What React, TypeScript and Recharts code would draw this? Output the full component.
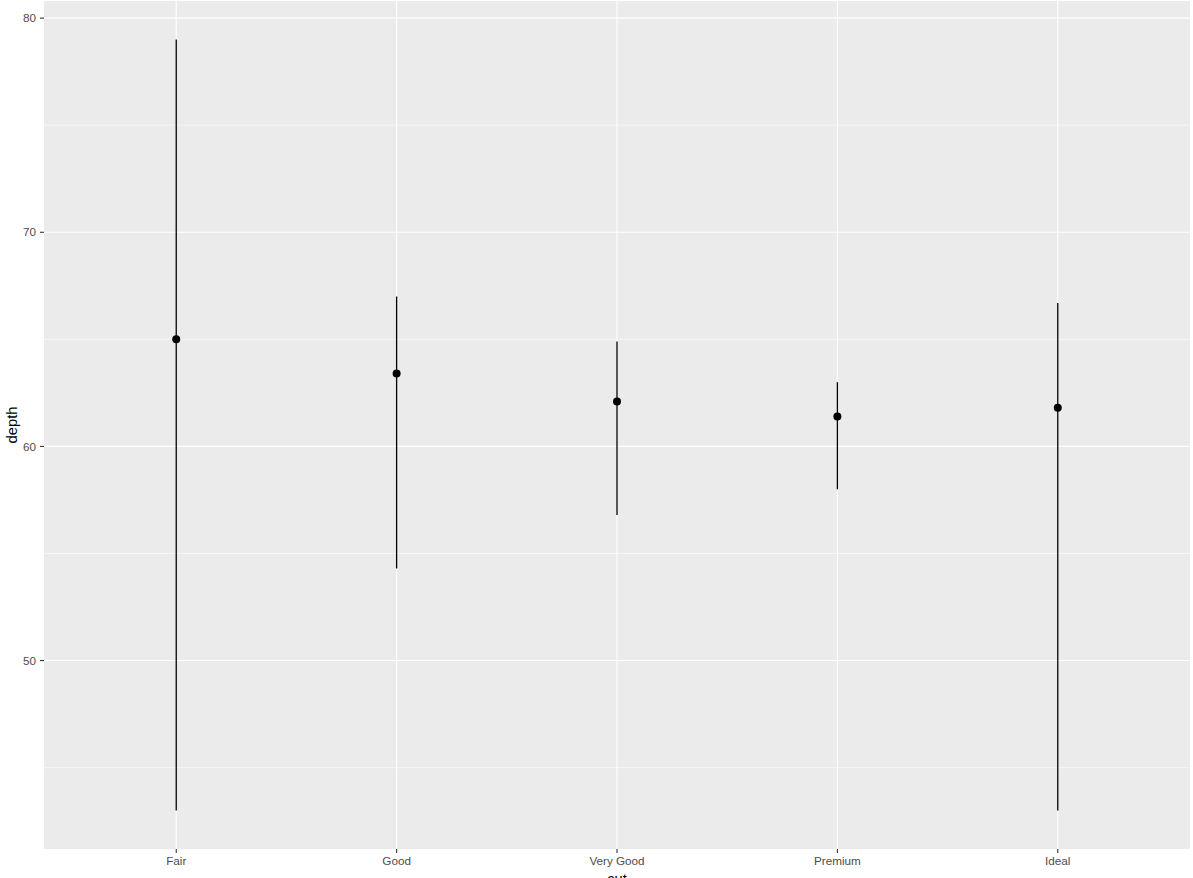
import {
  ComposedChart,
  Scatter,
  ErrorBar,
  XAxis,
  YAxis,
  CartesianGrid,
  Label,
} from "recharts";

const cuts = ["Fair", "Good", "Very Good", "Premium", "Ideal"];
const medians = [65.0, 63.4, 62.1, 61.4, 61.8];
const mins = [43.0, 54.3, 56.8, 58.0, 43.0];
const maxs = [79.0, 67.0, 64.9, 63.0, 66.7];

const majorY = [50, 60, 70, 80];
const minorY = [45, 55, 65, 75];
const xTicks = [0, 1, 2, 3, 4];

const data = cuts.map((c, i) => ({
  x: i,
  cut: c,
  depth: medians[i],
  range: [medians[i] - mins[i], maxs[i] - medians[i]],
}));

const FONT = "'Liberation Sans', Arial, sans-serif";

const Dot = (props: any) => (
  <circle cx={props.cx} cy={props.cy} r={4} fill="#000" />
);

export default function App() {
  return (
    <div style={{ position: "absolute", left: 0, top: 0, background: "#fff" }}>
      <ComposedChart
        width={1193}
        height={878}
        data={data}
        margin={{ top: 1, right: 3, bottom: 0, left: 0 }}
        style={{ fontFamily: FONT }}
      >
        <CartesianGrid
          fill="#EBEBEB"
          stroke="#fff"
          strokeWidth={0.55}
          horizontalValues={minorY}
          vertical={false}
        />
        <CartesianGrid
          stroke="#fff"
          strokeWidth={1.1}
          horizontalValues={majorY}
          verticalValues={xTicks}
        />
        <XAxis
          type="number"
          dataKey="x"
          domain={[-0.6, 4.6]}
          ticks={xTicks}
          allowDataOverflow
          tickFormatter={(v: number) => cuts[v] ?? ""}
          axisLine={false}
          tickLine={{ stroke: "#333", strokeWidth: 1.1 }}
          tickSize={4}
          tickMargin={4}
          height={29}
          tick={{ fill: "#4D4D4D", fontSize: 11.7, fontFamily: FONT }}
        >
          <Label
            content={() => (
              <text
                x={617}
                y={884}
                textAnchor="middle"
                fill="#000"
                fontSize={14.7}
                fontFamily={FONT}
              >
                cut
              </text>
            )}
          />
        </XAxis>
        <YAxis
          type="number"
          dataKey="depth"
          domain={[41.2, 80.8]}
          ticks={majorY}
          allowDataOverflow
          axisLine={false}
          tickLine={{ stroke: "#333", strokeWidth: 1.1 }}
          tickSize={4}
          tickMargin={4}
          width={44}
          tick={{ fill: "#4D4D4D", fontSize: 11.7, fontFamily: FONT }}
        >
          <Label
            content={() => (
              <text
                x={17}
                y={425}
                transform="rotate(-90 17 425)"
                textAnchor="middle"
                fill="#000"
                fontSize={14.7}
                fontFamily={FONT}
              >
                depth
              </text>
            )}
          />
        </YAxis>
        <Scatter
          dataKey="depth"
          fill="#000"
          shape={Dot}
          isAnimationActive={false}
        >
          <ErrorBar
            dataKey="range"
            direction="y"
            width={0}
            stroke="#000"
            strokeWidth={1.3}
            isAnimationActive={false}
          />
        </Scatter>
      </ComposedChart>
    </div>
  );
}
